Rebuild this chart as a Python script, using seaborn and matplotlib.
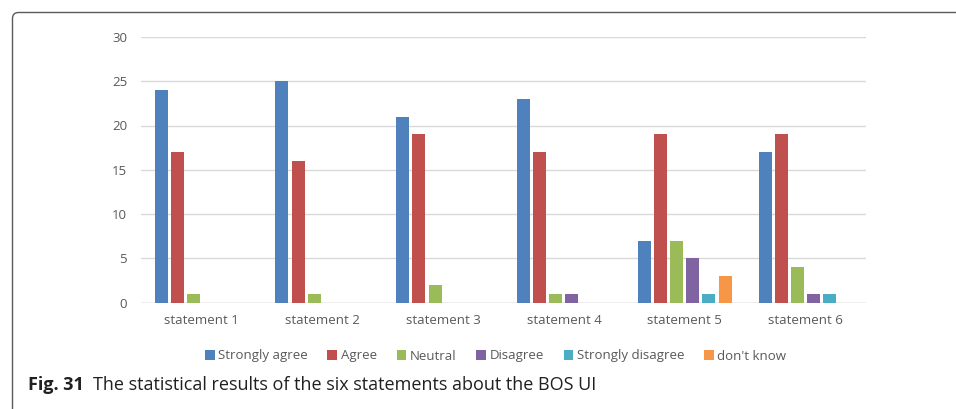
import matplotlib
matplotlib.use("Agg")
import matplotlib.pyplot as plt
import matplotlib.transforms as mtransforms
from matplotlib.patches import FancyBboxPatch
import pandas as pd
import seaborn as sns

# Survey answers per statement
statements = ["statement 1", "statement 2", "statement 3",
              "statement 4", "statement 5", "statement 6"]
responses = ["Strongly agree", "Agree", "Neutral", "Disagree",
             "Strongly disagree", "don't know"]
strongly_agree = [24, 25, 21, 23, 7, 17]
agree = [17, 16, 19, 17, 19, 19]
neutral = [1, 1, 2, 1, 7, 4]
disagree = [0, 0, 0, 1, 5, 1]
strongly_disagree = [0, 0, 0, 0, 1, 1]
dont_know = [0, 0, 0, 0, 3, 0]
y_ticks = [0, 5, 10, 15, 20, 25, 30]

colors = ["#4F81BD", "#C0504D", "#9BBB59", "#8064A2", "#4BACC6", "#F79646"]

series = [strongly_agree, agree, neutral, disagree, strongly_disagree, dont_know]
rows = []
for resp, vals in zip(responses, series):
    for st, v in zip(statements, vals):
        rows.append({"statement": st, "response": resp, "count": v})
df = pd.DataFrame(rows)

sns.set_theme(style="white")
plt.rcParams["font.family"] = ["Open Sans", "DejaVu Sans"]

W, H = 956, 409
fig = plt.figure(figsize=(W / 100, H / 100), dpi=100)
ax = fig.add_axes([141 / W, 1 - 302.5 / H, (866 - 141) / W, (302.5 - 37) / H])

sns.barplot(data=df, x="statement", y="count", hue="response",
            hue_order=responses, order=statements, palette=colors,
            saturation=1, width=0.8, gap=0.19, linewidth=0, ax=ax)

ax.set_ylim(0, 30)
ax.set_yticks(y_ticks)
ax.set_xlabel("")
ax.set_ylabel("")
for s in ax.spines.values():
    s.set_visible(False)
ax.grid(axis="y", color="#D9D9D9", linewidth=1.0)
ax.set_axisbelow(True)
ax.axhline(0, color="#C8C8C8", linewidth=1.0, zorder=0.5)
ax.tick_params(axis="both", length=0, labelsize=9.5, colors="#595959")
ax.tick_params(axis="x", pad=8)
ax.tick_params(axis="y", pad=10)

sns.move_legend(ax, "center", bbox_to_anchor=(495.5 / W, 1 - 356 / H),
                bbox_transform=fig.transFigure, ncol=6, frameon=False,
                title=None, fontsize=9.5, handlelength=0.75, handleheight=0.75,
                handletextpad=0.25, columnspacing=1.5, labelcolor="#595959")

# Caption
fig.text(28 / W, 1 - 385 / H, "Fig. 31", fontsize=13, fontweight="bold",
         color="#231F20", va="center", ha="left")
fig.text(93 / W, 1 - 385 / H,
         "The statistical results of the six statements about the BOS UI",
         fontsize=13, color="#231F20", va="center", ha="left")

# Rounded frame around the figure panel
frame = FancyBboxPatch((12.5, -60), 1100, H - 12.5 + 60,
                       boxstyle="round,pad=0,rounding_size=6",
                       transform=mtransforms.IdentityTransform(),
                       facecolor="none", edgecolor="#5A5A5A", linewidth=1.0)
fig.add_artist(frame)

fig.savefig("out.png", dpi=100)
